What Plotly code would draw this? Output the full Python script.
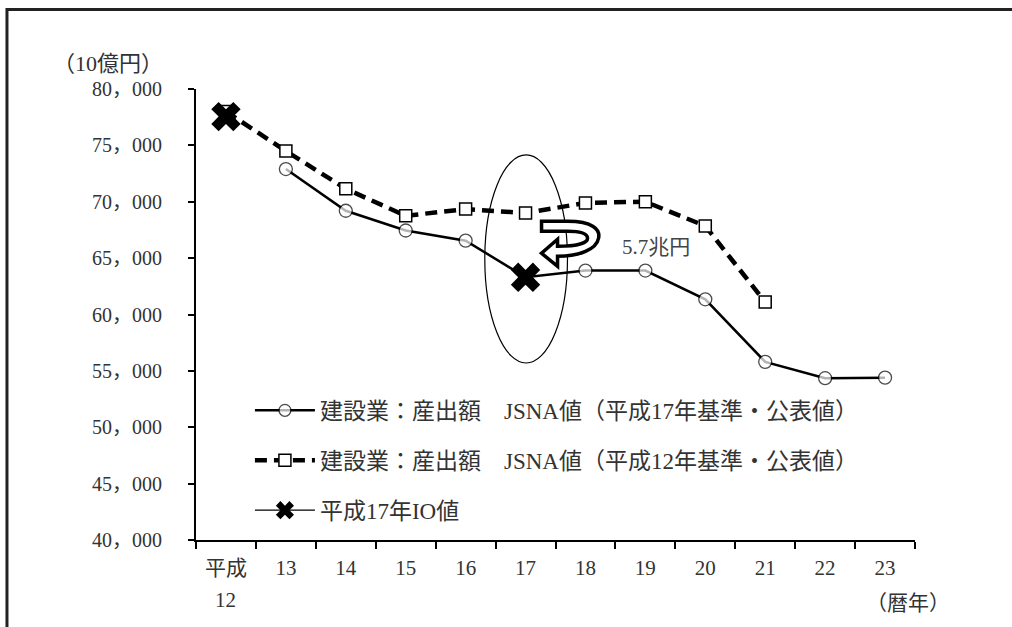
import plotly.graph_objects as go

# 暦年（平成）
years = [12, 13, 14, 15, 16, 17, 18, 19, 20, 21, 22, 23]
year_labels = ["平成", "13", "14", "15", "16", "17", "18", "19", "20", "21", "22", "23"]

# 建設業 産出額（10億円）
jsna_h17 = [None, 72900, 69200, 67450, 66550, 63300, 63900, 63900, 61350, 55800, 54350, 54400]
jsna_h12 = [78000, 74500, 71150, 68750, 69350, 69000, 69900, 70000, 67850, 61100, None, None]
io_h17 = [77550, None, None, None, None, 63300, None, None, None, None, None, None]

y_ticks = [40000, 45000, 50000, 55000, 60000, 65000, 70000, 75000, 80000]
y_tick_labels = ["40，000", "45，000", "50，000", "55，000", "60，000",
                 "65，000", "70，000", "75，000", "80，000"]

FONT = "Liberation Serif, Noto Sans CJK JP, serif"
TXT = "#333333"

# circle markers hidden where the IO cross sits on the line
h17_sizes = [0 if (v is not None and io_h17[i] == v) else 13
             for i, v in enumerate(jsna_h17)]

fig = go.Figure()
fig.add_trace(go.Scatter(
    x=years, y=jsna_h17, mode="lines+markers",
    name="建設業：産出額　JSNA値（平成17年基準・公表値）",
    line=dict(color="black", width=2.5),
    marker=dict(symbol="circle", size=h17_sizes, color="white",
                line=dict(color="black", width=1.3)),
    legendgroup="a",
))
fig.add_trace(go.Scatter(
    x=years, y=jsna_h12, mode="lines+markers",
    name="建設業：産出額　JSNA値（平成12年基準・公表値）",
    line=dict(color="black", width=4.5, dash="12px,7px"),
    marker=dict(symbol="square", size=12, color="white",
                line=dict(color="black", width=1.5)),
    legendgroup="b",
))
fig.add_trace(go.Scatter(
    x=years, y=io_h17, mode="lines+markers",
    name="平成17年IO値",
    line=dict(color="black", width=1.3),
    marker=dict(symbol="x", size=26, color="black", line=dict(width=0)),
    legendgroup="c",
))

# ellipse around 平成17
fig.add_shape(type="circle", xref="x", yref="y",
              x0=16.32, x1=17.70, y0=55700, y1=74150,
              line=dict(color="black", width=1.2), layer="above")

# curved hollow arrow (pixel offsets from the H17 cross, screen y downward)
arrow_pts = [
    ("M", [(16, -56)]),
    ("L", [(42, -56)]),
    ("C", [(67, -56), (75, -48), (73, -39)]),
    ("C", [(71, -28), (54, -21), (32, -21)]),
    ("L", [(32, -11)]),
    ("L", [(16, -24)]),
    ("L", [(32, -38)]),
    ("L", [(32, -31)]),
    ("C", [(50, -31), (62, -34), (62, -39)]),
    ("C", [(62, -44), (54, -46), (42, -46)]),
    ("L", [(16, -46)]),
]
path = " ".join(cmd + " " + " ".join(f"{dx},{-dy}" for dx, dy in pts) for cmd, pts in arrow_pts) + " Z"
fig.add_shape(type="path", xref="x", yref="y",
              xsizemode="pixel", ysizemode="pixel",
              xanchor=years[5], yanchor=io_h17[5],
              path=path, fillcolor="white",
              line=dict(color="black", width=3.5), layer="above")

diff_trillion = (jsna_h12[5] - io_h17[5]) / 1000
fig.add_annotation(x=19.17, y=65990, xref="x", yref="y",
                   text=f"{diff_trillion:.1f}兆円", showarrow=False,
                   font=dict(family=FONT, size=21, color="#444444"))

# axis captions
fig.add_annotation(x=0, y=1, xref="paper", yref="paper", xanchor="right", yanchor="middle",
                   xshift=-31, yshift=26, text="（10億円）", showarrow=False,
                   font=dict(family=FONT, size=22, color=TXT))
fig.add_annotation(x=1, y=0, xref="paper", yref="paper", xanchor="right", yanchor="middle",
                   xshift=37, yshift=-63, text="（暦年）", showarrow=False,
                   font=dict(family=FONT, size=21, color=TXT))
fig.add_annotation(x=years[0], y=0, xref="x", yref="paper", yanchor="middle",
                   yshift=-60, text="12", showarrow=False,
                   font=dict(family=FONT, size=21, color=TXT))

# outer frame (top and left edges visible)
fig.add_shape(type="rect", xref="paper", yref="paper",
              x0=-0.2629, x1=1.6, y0=-0.5, y1=1.1763,
              line=dict(color="#222222", width=3), layer="below")

fig.update_layout(
    width=1012, height=627,
    margin=dict(l=196, r=97, t=89, b=87),
    paper_bgcolor="white", plot_bgcolor="white",
    font=dict(family=FONT, size=19, color=TXT),
    showlegend=True,
    legend=dict(x=0.075, y=0.335, xanchor="left", yanchor="top",
                bgcolor="rgba(0,0,0,0)", font=dict(family=FONT, size=23, color=TXT),
                traceorder="grouped", tracegroupgap=17, itemwidth=60),
    xaxis=dict(range=[11.5, 23.5], tickvals=years, ticktext=year_labels,
               showline=True, linecolor="black", linewidth=2,
               showgrid=False, zeroline=False, ticks="",
               ticklabelstandoff=8,
               tickfont=dict(family=FONT, size=21, color=TXT),
               minor=dict(tickvals=[y - 0.5 for y in years] + [years[-1] + 0.5],
                          ticks="outside", ticklen=7, tickwidth=1.5, tickcolor="black",
                          showgrid=False)),
    yaxis=dict(range=[40000, 80000], tickvals=y_ticks, ticktext=y_tick_labels,
               showline=True, linecolor="black", linewidth=2,
               showgrid=False, zeroline=False,
               ticks="outside", ticklen=6, tickwidth=1.5, tickcolor="black",
               ticklabelstandoff=22,
               tickfont=dict(family=FONT, size=20, color=TXT)),
)

fig.write_html("out.html")
